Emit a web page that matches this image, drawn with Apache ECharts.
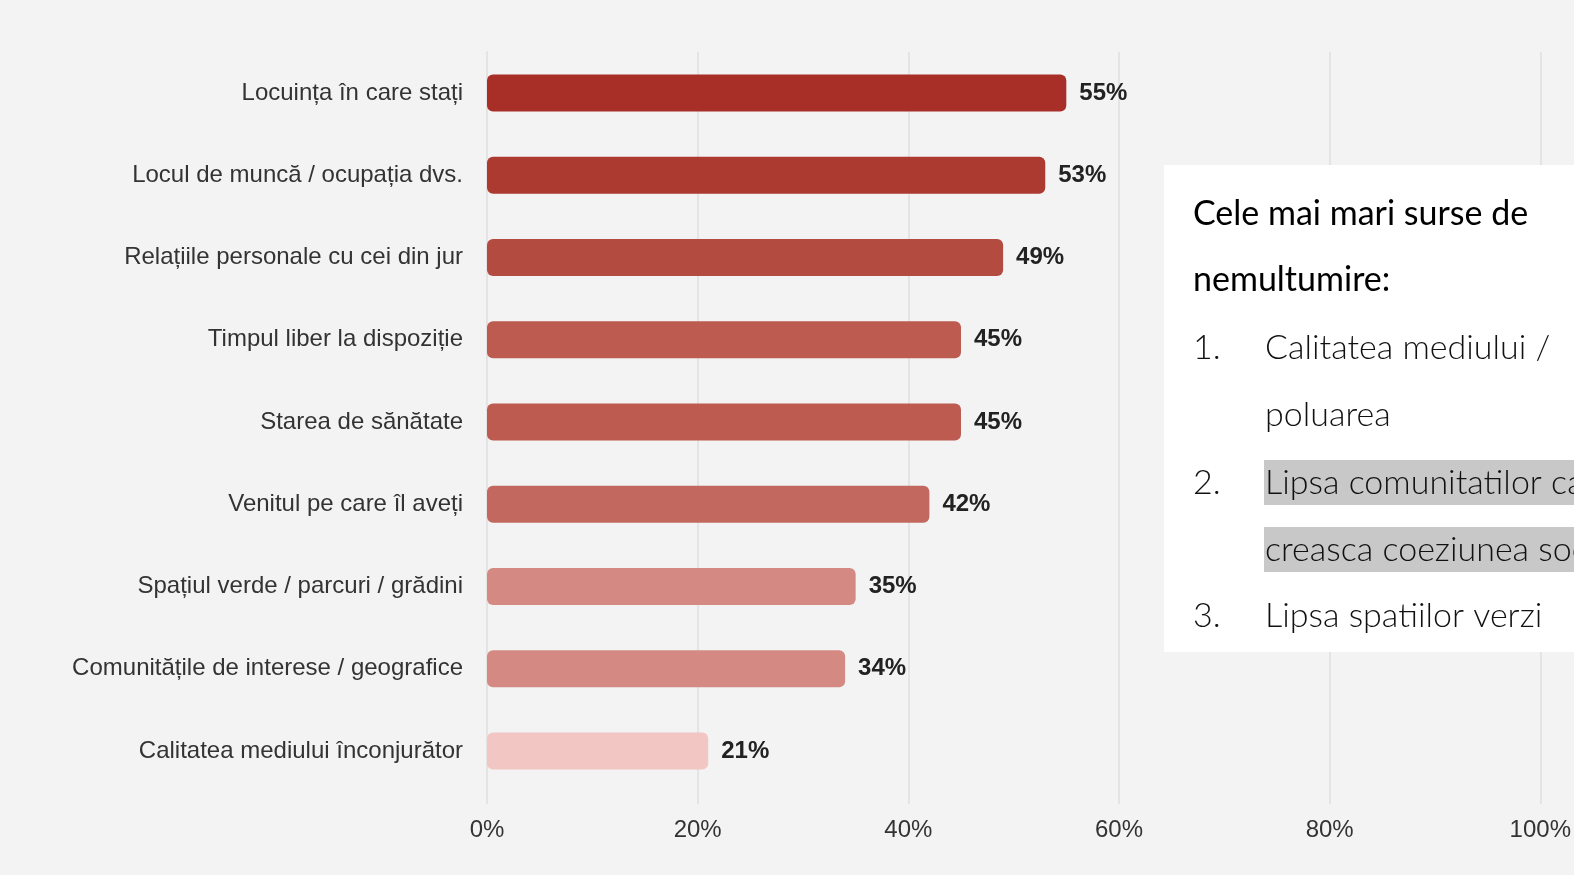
<!DOCTYPE html>
<html>
<head>
<meta charset="utf-8">
<script src="https://cdn.jsdelivr.net/npm/echarts@6/dist/echarts.min.js"></script>
<style>
html,body{margin:0;padding:0;background:#f3f3f3;overflow:hidden;}
#chart{width:1574px;height:875px;}
</style>
</head>
<body>
<div id="chart"></div>
<script>
var categories = [
  "Locuința în care stați",
  "Locul de muncă / ocupația dvs.",
  "Relațiile personale cu cei din jur",
  "Timpul liber la dispoziție",
  "Starea de sănătate",
  "Venitul pe care îl aveți",
  "Spațiul verde / parcuri / grădini",
  "Comunitățile de interese / geografice",
  "Calitatea mediului înconjurător"
];
var values = [55, 53, 49, 45, 45, 42, 35, 34, 21];
var barColors = ["#a82f27", "#ad3a31", "#b44b41", "#bd5b51", "#bd5b51", "#c3685f", "#d48a83", "#d48a83", "#f1c6c3"];
var xTicks = [0, 20, 40, 60, 80, 100];
var noteTitle = ["Cele mai mari surse de", "nemultumire:"];
var noteItems = [
  ["1.", "Calitatea mediului /", "poluarea", false],
  ["2.", "Lipsa comunitatilor care sa", "creasca coeziunea sociala", true],
  ["3.", "Lipsa spatiilor verzi", null, false]
];

var chart = echarts.init(document.getElementById('chart'));

var graphics = [
  { type: 'rect', shape: { x: 1164, y: 165, width: 410, height: 487 }, style: { fill: '#ffffff' }, z: 10 }
];
var tf = '"Lato", "Open Sans", sans-serif';
graphics.push({ type: 'text', x: 1193, y: 214, style: { text: noteTitle[0], font: '400 34px ' + tf, fill: '#000', verticalAlign: 'middle' }, z: 12 });
graphics.push({ type: 'text', x: 1193, y: 280, style: { text: noteTitle[1], font: '400 34px ' + tf, fill: '#000', verticalAlign: 'middle' }, z: 12 });
var rowY = [348, 483, 616];
noteItems.forEach(function (it, i) {
  var y = rowY[i];
  if (it[3]) {
    graphics.push({ type: 'rect', shape: { x: 1264, y: y - 23, width: 320, height: 45 }, style: { fill: '#c8c8c8' }, z: 11 });
    graphics.push({ type: 'rect', shape: { x: 1264, y: y + 44, width: 320, height: 45 }, style: { fill: '#c8c8c8' }, z: 11 });
  }
  graphics.push({ type: 'text', x: 1193, y: y, style: { text: it[0], font: '300 34px ' + tf, fill: '#111', verticalAlign: 'middle' }, z: 12 });
  graphics.push({ type: 'text', x: 1265, y: y, style: { text: it[1], font: '300 34px ' + tf, fill: '#111', verticalAlign: 'middle' }, z: 12 });
  if (it[2]) {
    graphics.push({ type: 'text', x: 1265, y: y + 67, style: { text: it[2], font: '300 34px ' + tf, fill: '#111', verticalAlign: 'middle' }, z: 12 });
  }
});

var option = {
  backgroundColor: '#f3f3f3',
  animation: false,
  grid: { left: 487, right: 28, top: 52, height: 740, containLabel: false },
  xAxis: {
    type: 'value', min: 0, max: 100, interval: 20,
    axisLine: { show: false },
    axisTick: { show: true, length: 12, lineStyle: { color: '#e4e4e4', width: 2 } },
    splitLine: { show: true, lineStyle: { color: '#e4e4e4', width: 2 } },
    axisLabel: {
      margin: 26, color: '#333', fontSize: 24, fontFamily: '"Liberation Sans", Arial, sans-serif',
      formatter: function (v) { return xTicks.indexOf(v) >= 0 ? v + '%' : ''; }
    }
  },
  yAxis: {
    type: 'category', data: categories, inverse: true,
    axisLine: { show: true, lineStyle: { color: '#e4e4e4', width: 2 } },
    axisTick: { show: false },
    axisLabel: { margin: 24, color: '#333', fontSize: 24, fontFamily: '"Liberation Sans", Arial, sans-serif' }
  },
  series: [{
    type: 'bar',
    data: values.map(function (v, i) { return { value: v, itemStyle: { color: barColors[i] } }; }),
    barWidth: 37,
    itemStyle: { borderRadius: 6 },
    label: {
      show: true, position: 'right', distance: 13, formatter: '{c}%',
      color: '#222', fontSize: 24, fontWeight: 'bold', fontFamily: '"Liberation Sans", Arial, sans-serif'
    }
  }],
  graphic: graphics
};
chart.setOption(option);
</script>
</body>
</html>
